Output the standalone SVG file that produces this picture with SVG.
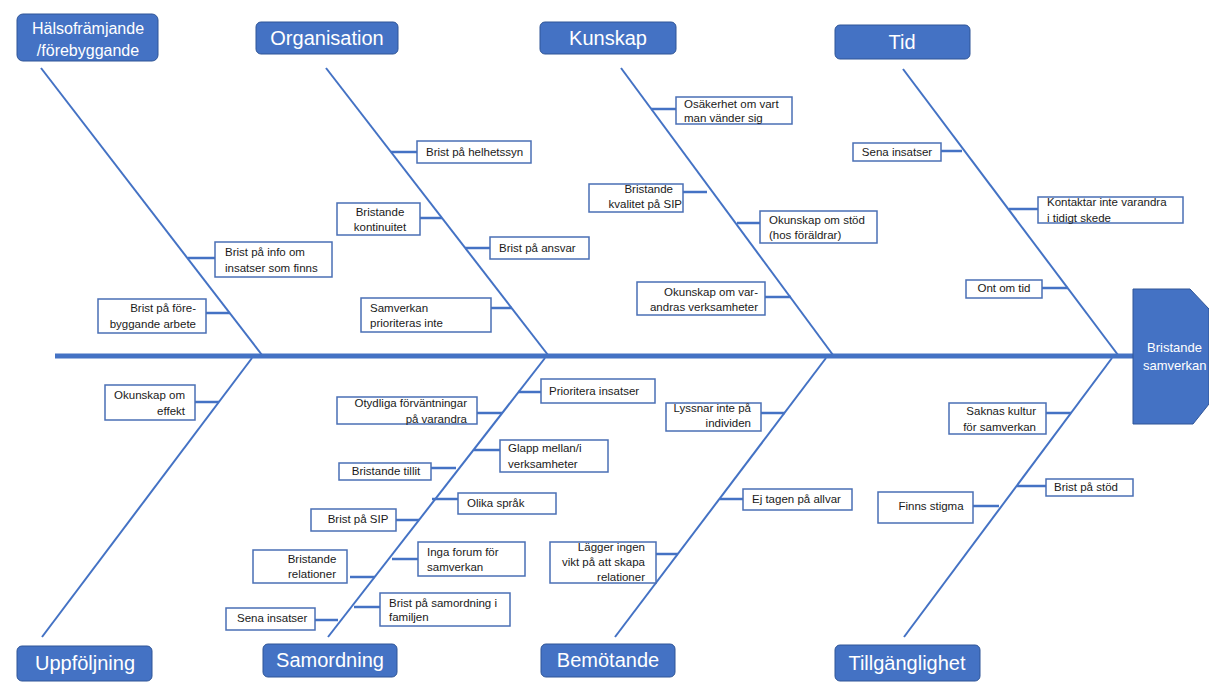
<svg xmlns="http://www.w3.org/2000/svg" width="1209" height="684" viewBox="0 0 1209 684">
<style>
.cat{fill:#4472C4;stroke:#2F5597;stroke-width:1}
.ct{font-family:"Liberation Sans",Arial,sans-serif;font-size:20px;fill:#fff;text-anchor:middle}
.box{fill:#fff;stroke:#4A6FB5;stroke-width:1.5}
.t{font-family:"Liberation Sans",Arial,sans-serif;font-size:11.5px;fill:#1a1a1a}
.m{text-anchor:middle}.e{text-anchor:end}
.bone{stroke:#4472C4;stroke-width:2;fill:none}
.tick{stroke:#4472C4;stroke-width:2.5;fill:none}
.spine{stroke:#4472C4;stroke-width:5}
</style>
<rect width="1209" height="684" fill="#fff"/>
<g id="connectors">
<line class="spine" x1="55" y1="356" x2="1135" y2="356"/>
<line class="bone" x1="41" y1="68" x2="262" y2="355"/>
<line class="bone" x1="326" y1="68" x2="548" y2="355"/>
<line class="bone" x1="621" y1="68" x2="833" y2="355"/>
<line class="bone" x1="903" y1="69" x2="1118" y2="355"/>
<line class="bone" x1="252" y1="358" x2="42" y2="637"/>
<line class="bone" x1="545" y1="358" x2="328" y2="637"/>
<line class="bone" x1="826" y1="358" x2="615" y2="637"/>
<line class="bone" x1="1112" y1="358" x2="904" y2="637"/>
<line class="tick" x1="188" y1="258" x2="215" y2="258"/>
<line class="tick" x1="206" y1="313" x2="230" y2="313"/>
<line class="tick" x1="391" y1="152" x2="417" y2="152"/>
<line class="tick" x1="420" y1="218" x2="442" y2="218"/>
<line class="tick" x1="465" y1="248" x2="490" y2="248"/>
<line class="tick" x1="491" y1="308" x2="512" y2="308"/>
<line class="tick" x1="651" y1="109" x2="676" y2="109"/>
<line class="tick" x1="683" y1="192" x2="707" y2="192"/>
<line class="tick" x1="737" y1="223" x2="760" y2="223"/>
<line class="tick" x1="765" y1="297" x2="791" y2="297"/>
<line class="tick" x1="941" y1="151" x2="962" y2="151"/>
<line class="tick" x1="1009" y1="209" x2="1038" y2="209"/>
<line class="tick" x1="1042" y1="288" x2="1068" y2="288"/>
<line class="tick" x1="195" y1="402" x2="219" y2="402"/>
<line class="tick" x1="518" y1="392" x2="541" y2="392"/>
<line class="tick" x1="477" y1="413" x2="502" y2="413"/>
<line class="tick" x1="474" y1="450" x2="500" y2="450"/>
<line class="tick" x1="431" y1="468" x2="456" y2="468"/>
<line class="tick" x1="432" y1="499" x2="458" y2="499"/>
<line class="tick" x1="396" y1="520" x2="419" y2="520"/>
<line class="tick" x1="392" y1="559" x2="418" y2="559"/>
<line class="tick" x1="350" y1="577" x2="375" y2="577"/>
<line class="tick" x1="354" y1="607" x2="380" y2="607"/>
<line class="tick" x1="315" y1="620" x2="338" y2="620"/>
<line class="tick" x1="761" y1="413" x2="785" y2="413"/>
<line class="tick" x1="720" y1="499" x2="743" y2="499"/>
<line class="tick" x1="656" y1="554" x2="678" y2="554"/>
<line class="tick" x1="1046" y1="413" x2="1071" y2="413"/>
<line class="tick" x1="1017" y1="486" x2="1046" y2="486"/>
<line class="tick" x1="973" y1="506" x2="999" y2="506"/>
</g>
<g id="head">
<polygon points="1133,289 1190,289 1209,309 1209,404 1193,424 1133,424" fill="#4472C4" stroke="#2F5597" stroke-width="1"/>
<text x="1147" y="352" font-family="Liberation Sans,Arial,sans-serif" font-size="13" fill="#fff">Bristande</text>
<text x="1143" y="370" font-family="Liberation Sans,Arial,sans-serif" font-size="13" fill="#fff">samverkan</text>
</g>
<g id="cat-halso"><rect class="cat" x="17" y="14" width="141" height="47" rx="6"/><text class="ct" x="88" y="33.5" style="font-size:16px">Hälsofrämjande</text><text class="ct" x="88" y="55.5" style="font-size:16px">/förebyggande</text></g>
<g id="cat-organisation"><rect class="cat" x="256" y="22" width="142" height="32" rx="5"/><text class="ct" x="327" y="45">Organisation</text></g>
<g id="cat-kunskap"><rect class="cat" x="540" y="22" width="136" height="32" rx="5"/><text class="ct" x="608" y="45">Kunskap</text></g>
<g id="cat-tid"><rect class="cat" x="835" y="25" width="135" height="34" rx="5"/><text class="ct" x="902" y="49">Tid</text></g>
<g id="cat-uppfoljning"><rect class="cat" x="17" y="646" width="135" height="35" rx="5"/><text class="ct" x="85" y="670">Uppföljning</text></g>
<g id="cat-samordning"><rect class="cat" x="263" y="644" width="134" height="33" rx="5"/><text class="ct" x="330" y="667">Samordning</text></g>
<g id="cat-bemotande"><rect class="cat" x="541" y="644" width="134" height="33" rx="5"/><text class="ct" x="608" y="667">Bemötande</text></g>
<g id="cat-tillganglighet"><rect class="cat" x="835" y="645" width="145" height="36" rx="5"/><text class="ct" x="907" y="670">Tillgänglighet</text></g>

<g id="c-info"><rect class="box" x="215" y="242" width="117" height="35"/><text class="t" x="225" y="256">Brist på info om</text><text class="t" x="225" y="272">insatser som finns</text></g>
<g id="c-fore"><rect class="box" x="98" y="299" width="108" height="34"/><text class="t e" x="196" y="312">Brist på före-</text><text class="t e" x="196" y="328">byggande arbete</text></g>
<g id="c-helhet"><rect class="box" x="417" y="141" width="114" height="22"/><text class="t" x="426" y="156">Brist på helhetssyn</text></g>
<g id="c-kontinuitet"><rect class="box" x="337" y="203" width="83" height="32"/><text class="t m" x="380" y="216">Bristande</text><text class="t m" x="380" y="231">kontinuitet</text></g>
<g id="c-ansvar"><rect class="box" x="490" y="237" width="99" height="22"/><text class="t" x="499" y="252">Brist på ansvar</text></g>
<g id="c-prioriteras"><rect class="box" x="361" y="298" width="130" height="34"/><text class="t" x="370" y="312">Samverkan</text><text class="t" x="370" y="327">prioriteras inte</text></g>
<g id="c-osakerhet"><rect class="box" x="676" y="97" width="116" height="27"/><text class="t" x="684" y="108">Osäkerhet om vart</text><text class="t" x="684" y="122">man vänder sig</text></g>
<g id="c-kvalitet"><rect class="box" x="589" y="184" width="94" height="28"/><text class="t e" x="673" y="193">Bristande</text><text class="t e" x="682" y="208">kvalitet på SIP</text></g>
<g id="c-stod"><rect class="box" x="760" y="211" width="117" height="32"/><text class="t" x="769" y="224">Okunskap om stöd</text><text class="t" x="769" y="239">(hos föräldrar)</text></g>
<g id="c-varandras"><rect class="box" x="637" y="282" width="128" height="33"/><text class="t e" x="758" y="296">Okunskap om var-</text><text class="t e" x="758" y="311">andras verksamheter</text></g>
<g id="c-sena1"><rect class="box" x="853" y="143" width="88" height="18"/><text class="t m" x="897" y="156">Sena insatser</text></g>
<g id="c-kontaktar"><rect class="box" x="1038" y="197" width="145" height="26"/><text class="t" x="1047" y="206">Kontaktar inte varandra</text><text class="t" x="1047" y="222">i tidigt skede</text></g>
<g id="c-ont"><rect class="box" x="966" y="280" width="76" height="18"/><text class="t m" x="1004" y="292">Ont om tid</text></g>

<g id="c-effekt"><rect class="box" x="105" y="385" width="90" height="35"/><text class="t e" x="185" y="399">Okunskap om</text><text class="t e" x="185" y="415">effekt</text></g>
<g id="c-prioritera"><rect class="box" x="541" y="379" width="114" height="24"/><text class="t" x="549" y="395">Prioritera insatser</text></g>
<g id="c-otydliga"><rect class="box" x="337" y="397" width="140" height="27"/><text class="t e" x="467" y="407">Otydliga förväntningar</text><text class="t e" x="467" y="423">på varandra</text></g>
<g id="c-glapp"><rect class="box" x="500" y="440" width="108" height="32"/><text class="t" x="508" y="452">Glapp mellan/i</text><text class="t" x="508" y="468">verksamheter</text></g>
<g id="c-tillit"><rect class="box" x="339" y="463" width="92" height="17"/><text class="t m" x="386" y="475">Bristande tillit</text></g>
<g id="c-sprak"><rect class="box" x="458" y="493" width="98" height="21"/><text class="t" x="467" y="507">Olika språk</text></g>
<g id="c-sip"><rect class="box" x="311" y="509" width="85" height="22"/><text class="t m" x="358" y="523">Brist på SIP</text></g>
<g id="c-forum"><rect class="box" x="418" y="542" width="107" height="34"/><text class="t" x="427" y="556">Inga forum för</text><text class="t" x="427" y="571">samverkan</text></g>
<g id="c-relationer"><rect class="box" x="253" y="550" width="94" height="33"/><text class="t m" x="312" y="563">Bristande</text><text class="t m" x="312" y="578">relationer</text></g>
<g id="c-familjen"><rect class="box" x="380" y="593" width="130" height="33"/><text class="t" x="389" y="607">Brist på samordning i</text><text class="t" x="389" y="621">familjen</text></g>
<g id="c-sena2"><rect class="box" x="226" y="608" width="89" height="22"/><text class="t" x="237" y="622">Sena insatser</text></g>
<g id="c-lyssnar"><rect class="box" x="666" y="403" width="95" height="28"/><text class="t e" x="751" y="412">Lyssnar inte på</text><text class="t e" x="751" y="427">individen</text></g>
<g id="c-allvar"><rect class="box" x="743" y="489" width="109" height="21"/><text class="t" x="752" y="503">Ej tagen på allvar</text></g>
<g id="c-lagger"><rect class="box" x="550" y="542" width="106" height="41"/><text class="t e" x="645" y="551">Lägger ingen</text><text class="t e" x="645" y="566">vikt på att skapa</text><text class="t e" x="645" y="581">relationer</text></g>
<g id="c-kultur"><rect class="box" x="949" y="403" width="97" height="31"/><text class="t e" x="1036" y="415">Saknas kultur</text><text class="t e" x="1036" y="431">för samverkan</text></g>
<g id="c-brist-stod"><rect class="box" x="1046" y="479" width="87" height="17"/><text class="t" x="1054" y="491">Brist på stöd</text></g>
<g id="c-stigma"><rect class="box" x="878" y="492" width="95" height="31"/><text class="t m" x="931" y="510">Finns stigma</text></g>
</svg>
